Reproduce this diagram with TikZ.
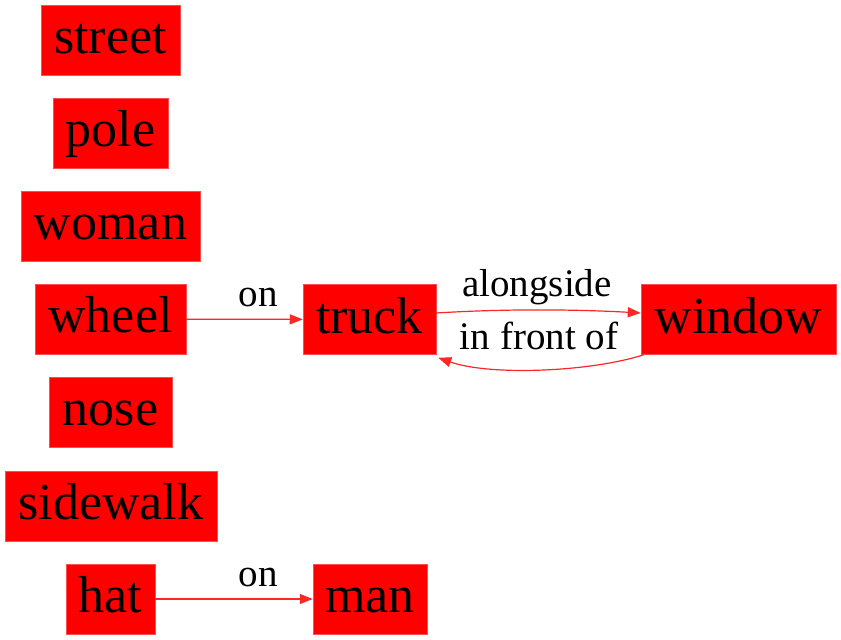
\documentclass[tikz,border=0pt]{standalone}
\usepackage{fontspec}
\setmainfont{Liberation Serif}
\usetikzlibrary{arrows.meta}
\begin{document}
\begin{tikzpicture}[x=1pt,y=-1pt,
  obj/.style={fill=red, draw=red!70!white, line width=0.5pt, inner sep=0pt, minimum height=70pt, text height=36pt, text depth=9pt, font=\fontsize{52}{60}\selectfont},
  lbl/.style={inner sep=0pt, font=\fontsize{39}{45}\selectfont},
  edge/.style={draw=red!85!white, line width=1.2pt, -{Triangle[length=13pt,width=10pt]}}]
\useasboundingbox (0,0) rectangle (841,640);
\node[obj, minimum width=139pt] (street) at (110.5,40) {street};
\node[obj, minimum width=115pt] (pole) at (110.5,133) {pole};
\node[obj, minimum width=179pt] (woman) at (110.5,226) {woman};
\node[obj, minimum width=151pt] (wheel) at (110.5,319) {wheel};
\node[obj, minimum width=123pt] (nose) at (110.5,412) {nose};
\node[obj, minimum width=212pt] (sidewalk) at (111,506) {sidewalk};
\node[obj, minimum width=89pt] (hat) at (110.5,599) {hat};
\node[obj, minimum width=133pt] (truck) at (369.5,319.5) {truck};
\node[obj, minimum width=195pt] (window) at (738.5,319.5) {window};
\node[obj, minimum width=114pt] (man) at (370,599) {man};
\draw[edge] (wheel) -- (truck);
\node[lbl] (l1) at (258,297) {on};
\draw[edge] (hat) -- (man);
\node[lbl] (l2) at (258,577) {on};
\draw[edge] ([yshift=6.5pt]truck.east) .. controls (500,309) and (570,309) .. ([yshift=6.5pt]window.west);
\node[lbl] (l3) at (537,287) {alongside};
\draw[edge] ([xshift=3pt]window.south west) .. controls (590,372) and (490,376) .. ([xshift=2pt,yshift=-3pt]truck.south east);
\node[lbl] (l4) at (539,336) {in front of};
\end{tikzpicture}
\end{document}
